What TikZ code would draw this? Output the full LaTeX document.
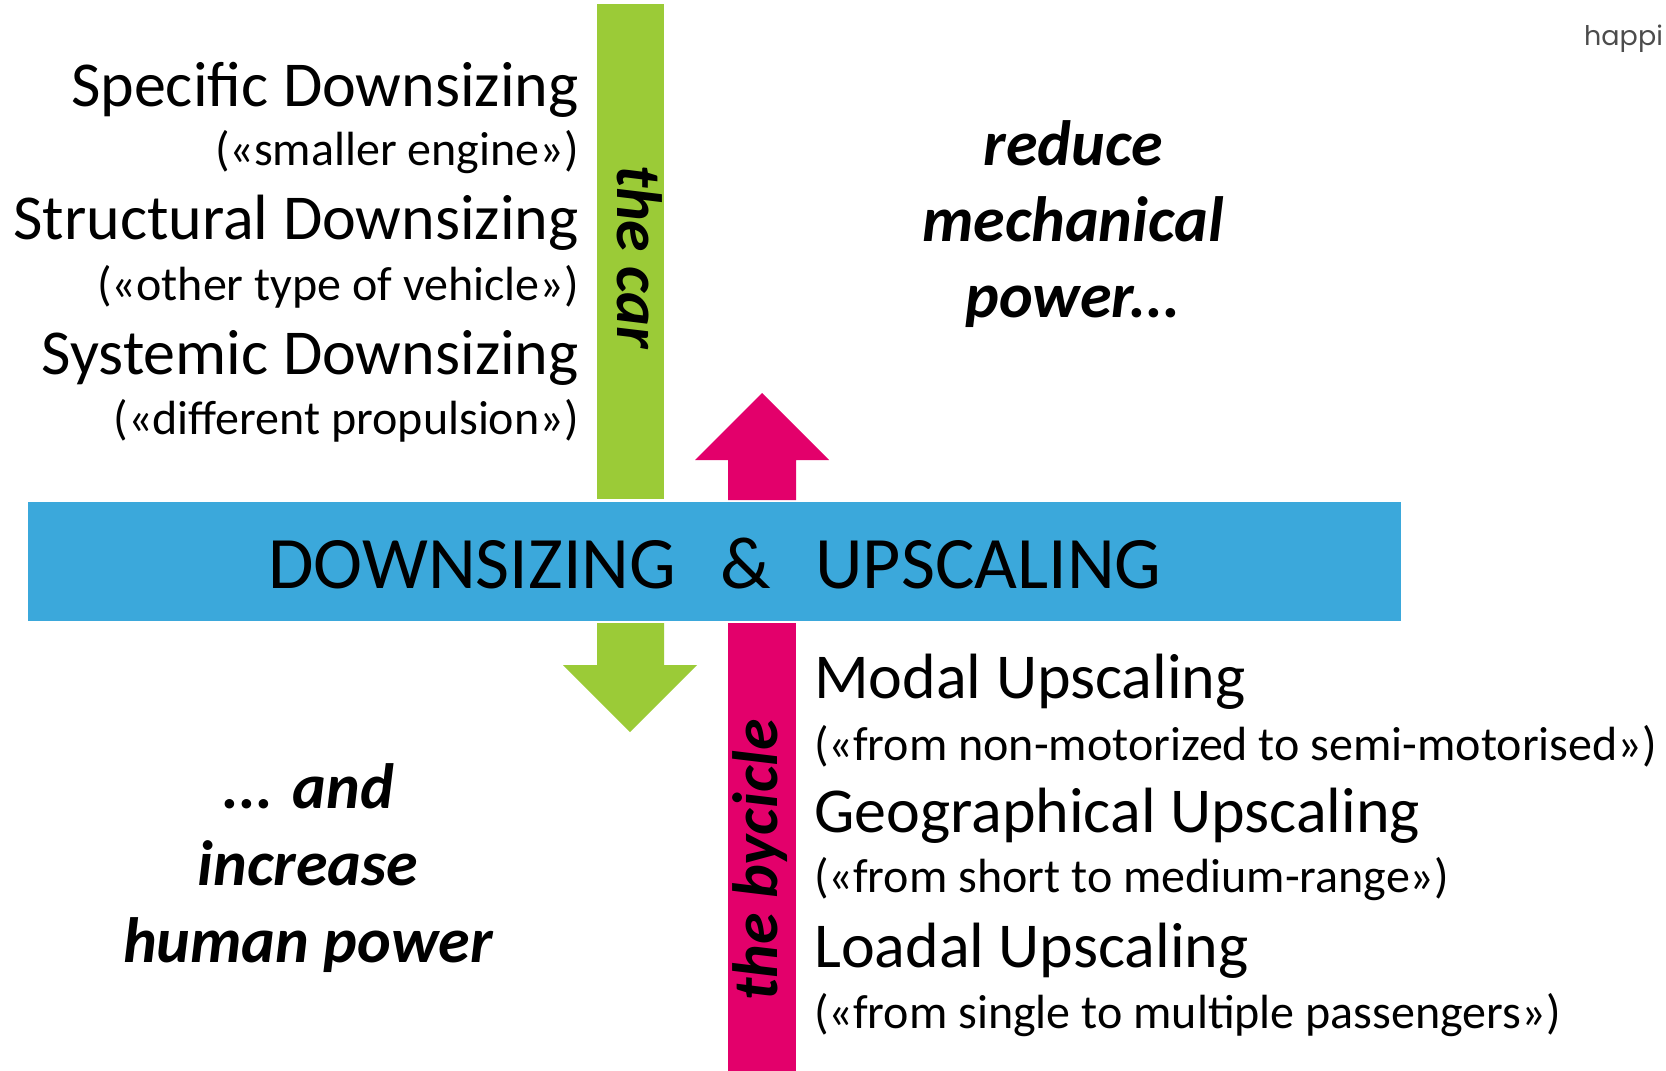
\documentclass[tikz,border=0pt]{standalone}
\usepackage{fontspec}
\setmainfont{Carlito}
\newfontfamily\logofont{Poppins}
\usetikzlibrary{positioning}

\definecolor{cargreen}{RGB}{155,203,55}
\definecolor{bikepink}{RGB}{227,0,107}
\definecolor{barblue}{RGB}{59,168,219}

\tikzset{
  bigline/.style={inner sep=0pt, font=\fontsize{64}{64}\selectfont},
  smallline/.style={inner sep=0pt, font=\fontsize{48}{48}\selectfont},
  slogan/.style={inner sep=0pt, font=\fontsize{64}{64}\selectfont\bfseries\itshape, align=center},
  vehicle/.style={inner sep=0pt, font=\fontsize{64}{64}\selectfont\bfseries\itshape}
}

\begin{document}
\begin{tikzpicture}[x=1pt,y=-1pt]
\useasboundingbox (0,0) rectangle (1666,1071);

% the car
\fill [cargreen] (597,4) rectangle (664,499);
\fill [cargreen] (597,623)--(664,623)--(664,665)--(697,665)--(630,732)--(563,665)--(597,665)--cycle;

% the bicycle
\fill [bikepink] (728,500)--(796,500)--(796,460)--(829,460)--(762,393)--(695,460)--(728,460)--cycle;
\fill [bikepink] (728,623) rectangle (796,1071);

% middle bar
\fill [barblue] (28,502) rectangle (1401,621);
\node [inner sep=0pt, anchor=base, font=\fontsize{74}{74}\selectfont] (title) at (715,588)
  {DOWNSIZING\hspace{0.6em}\&\hspace{0.6em}UPSCALING};

\node [vehicle, rotate=-90] (car) at (640,257) {the car};
\node [vehicle, rotate=90] (bike) at (760,860) {the bycicle};

% downsizing
\node [bigline, anchor=base east] (specific) at (579,106) {Specific Downsizing};
\node [smallline, anchor=base east] (specifictxt) at (579,165) {(«smaller engine»)};
\node [bigline, anchor=base east] (structural) at (579,239) {Structural Downsizing};
\node [smallline, anchor=base east] (structuraltxt) at (579,300) {(«other type of vehicle»)};
\node [bigline, anchor=base east] (systemic) at (579,374) {Systemic Downsizing};
\node [smallline, anchor=base east] (systemictxt) at (579,434) {(«different propulsion»)};

% upscaling
\node [bigline, anchor=base west] (modal) at (814,698) {Modal Upscaling};
\node [smallline, anchor=base west] (modaltxt) at (814,760) {(«from non-motorized to semi-motorised»)};
\node [bigline, anchor=base west] (geo) at (814,832) {Geographical Upscaling};
\node [smallline, anchor=base west] (geotxt) at (814,892) {(«from short to medium-range»)};
\node [bigline, anchor=base west] (loadal) at (814,967) {Loadal Upscaling};
\node [smallline, anchor=base west] (loadaltxt) at (814,1028) {(«from single to multiple passengers»)};

% slogans
\node [slogan, anchor=base] (reduce) at (1073,165) {reduce};
\node [slogan, anchor=base] (mech) at (1073,241) {mechanical};
\node [slogan, anchor=base] (mpower) at (1073,317) {power...};
\node [slogan, anchor=base] (and) at (308,808) {... and};
\node [slogan, anchor=base] (increase) at (308,885) {increase};
\node [slogan, anchor=base] (hpower) at (308,962) {human power};

\node [inner sep=0pt, anchor=base west, text=black!70, font=\logofont\fontsize{27}{27}\selectfont] (logo) at (1584,45) {happi};
\end{tikzpicture}
\end{document}
